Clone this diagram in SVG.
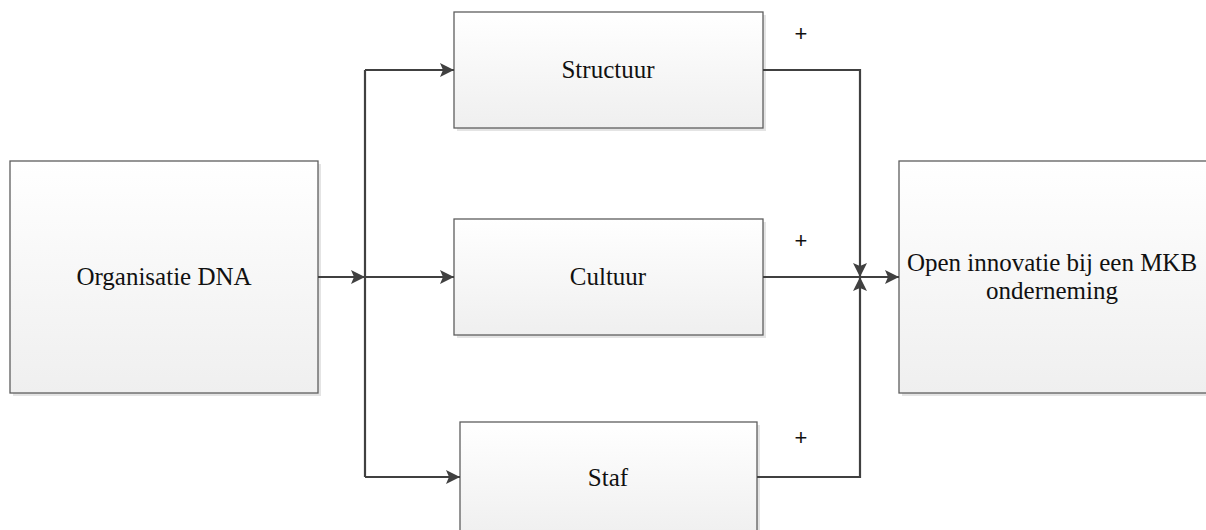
<svg xmlns="http://www.w3.org/2000/svg" width="1206" height="530" viewBox="0 0 1206 530">
<defs>
<linearGradient id="g" x1="0" y1="0" x2="0" y2="1">
<stop offset="0" stop-color="#ffffff"/>
<stop offset="1" stop-color="#efefef"/>
</linearGradient>
<marker id="arr" markerUnits="userSpaceOnUse" markerWidth="14" markerHeight="14" refX="14" refY="7" orient="auto">
<path d="M0,0 L14,7 L0,14 L3,7 Z" fill="#404040"/>
</marker>
</defs>
<style>
.box{fill:url(#g);stroke:#5e5e5e;stroke-width:1.3}
.sh{fill:#e4e4e4}
.lbl{font-family:"Liberation Serif","Times New Roman",serif;font-size:25px;fill:#111;text-anchor:middle}
.plus{font-family:"Liberation Sans",Arial,sans-serif;font-size:22px;fill:#111;text-anchor:middle}
.c{fill:none;stroke:#404040;stroke-width:2.2}
</style>
<g id="node-org">
<rect class="sh" x="13" y="164" width="308" height="232"/>
<rect class="box" x="10" y="161" width="308" height="232"/>
<text class="lbl" x="164" y="285">Organisatie DNA</text>
</g>
<g id="node-structuur">
<rect class="sh" x="457" y="15" width="309" height="116"/>
<rect class="box" x="454" y="12" width="309" height="116"/>
<text class="lbl" x="608" y="78">Structuur</text>
</g>
<g id="node-cultuur">
<rect class="sh" x="457" y="222" width="309" height="116"/>
<rect class="box" x="454" y="219" width="309" height="116"/>
<text class="lbl" x="608" y="285">Cultuur</text>
</g>
<g id="node-staf">
<rect class="sh" x="463" y="425" width="297" height="116"/>
<rect class="box" x="460" y="422" width="297" height="116"/>
<text class="lbl" x="608" y="486">Staf</text>
</g>
<g id="node-open">
<rect class="sh" x="902" y="164" width="308" height="232"/>
<rect class="box" x="899" y="161" width="308" height="232"/>
<text class="lbl" x="1052" y="271">Open innovatie bij een MKB</text>
<text class="lbl" x="1052" y="299">onderneming</text>
</g>
<g id="connectors">
<path class="c" d="M318,277 L365,277" marker-end="url(#arr)"/>
<path class="c" d="M365,70 L365,477"/>
<path class="c" d="M365,70 L454,70" marker-end="url(#arr)"/>
<path class="c" d="M365,277 L454,277" marker-end="url(#arr)"/>
<path class="c" d="M365,477 L460,477" marker-end="url(#arr)"/>
<path class="c" d="M763,70 L860,70 L860,277" marker-end="url(#arr)"/>
<path class="c" d="M757,477 L860,477 L860,277" marker-end="url(#arr)"/>
<path class="c" d="M763,277 L899,277" marker-end="url(#arr)"/>
<text class="plus" x="801" y="41">+</text>
<text class="plus" x="801" y="248">+</text>
<text class="plus" x="801" y="445">+</text>
</g>
</svg>
